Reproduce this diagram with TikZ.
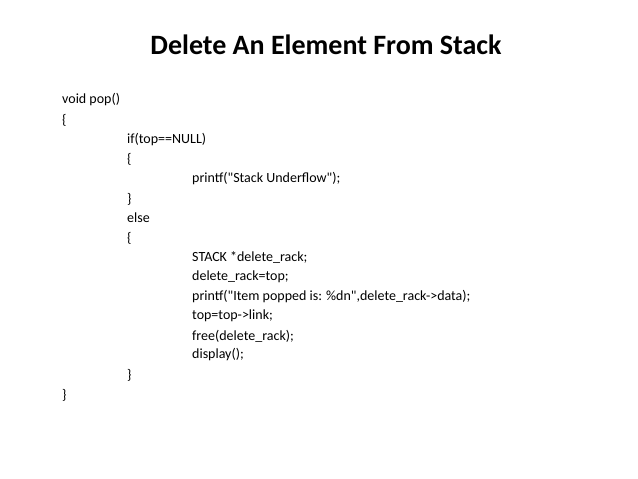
\documentclass[tikz,border=0pt]{standalone}
\usepackage{fontspec}
\setmainfont{Carlito}
\usetikzlibrary{positioning}
\begin{document}
\begin{tikzpicture}[x=1pt,y=-1pt]

% Slide frame
\useasboundingbox (0,0) rectangle (638,479);

% Text styles
\tikzset{titleT/.style={font=\fontsize{28}{32}\selectfont\bfseries, inner sep=0pt}}
\tikzset{codeT/.style={font=\fontsize{14}{16}\selectfont, anchor=west, inner sep=0pt}}

% Title
\node (title) [titleT] at (326,45) {Delete An Element From Stack};

% Code lines
\node (l1) [codeT] at (62,100) {void pop()};
\node (l2) [codeT] at (62,120) {\{};
\node (l3) [codeT] at (127,140) {if(top==NULL)};
\node (l4) [codeT] at (127,159) {\{};
\node (l5) [codeT] at (192,179) {printf(\textquotedbl Stack Underflow\textquotedbl);};
\node (l6) [codeT] at (127,199) {\}};
\node (l7) [codeT] at (127,218) {else};
\node (l8) [codeT] at (127,238) {\{};
\node (l9) [codeT] at (192,257) {STACK *delete\_rack;};
\node (l10) [codeT] at (192,277) {delete\_rack=top;};
\node (l11) [codeT] at (192,297) {printf(\textquotedbl Item popped is: \%dn\textquotedbl,delete\_rack->data);};
\node (l12) [codeT] at (192,316) {top=top->link;};
\node (l13) [codeT] at (192,336) {free(delete\_rack);};
\node (l14) [codeT] at (192,355) {display();};
\node (l15) [codeT] at (127,375) {\}};
\node (l16) [codeT] at (62,395) {\}};

\end{tikzpicture}
\end{document}
